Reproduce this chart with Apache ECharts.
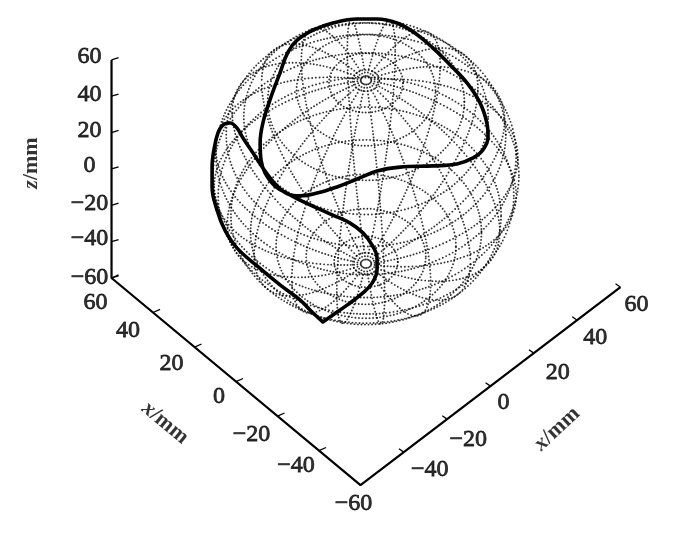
<!DOCTYPE html>
<html>
<head>
<meta charset="utf-8">
<title>sphere seam</title>
<script src="https://cdn.jsdelivr.net/npm/echarts@6/dist/echarts.min.js"></script>
<style>html,body{margin:0;padding:0;background:#fff}#main{width:700px;height:536px}</style>
</head>
<body>
<div id="main"></div>
<script>
// values in mm
var zTicks = [60, 40, 20, 0, -20, -40, -60];
var leftTicks = [60, 40, 20, 0, -20, -40, -60];
var rightTicks = [60, 40, 20, 0, -20, -40];
var sphereRadius = 50;
var latitudes = [-85, -78, -67, -54, -41, -28, -15, -2, 11, 24, 37, 50, 63, 76, 85];
var longitudes = [7, 25, 43, 61, 79, 97, 115, 133, 151, 169, 187, 205, 223, 241, 259, 277, 295, 313, 331, 349];

// seam curve, view plane mm from the sphere centre
var seamU = [-14.1, -17.3, -21.6, -28.1, -35.6, -42.2, -46.1, -48.7, -50.3, -50.3, -49.7, -48.4, -46.7, -44.4, -42.2, -40.2, -36.9, -33.7, -29.7, -25.5, -21.6, -16.0, -9.5, -2.9, 3.6, 11.1, 21.9, 29.7, 35.0, 38.2, 39.9, 39.5, 37.3, 33.0, 27.5, 21.9, 15.4, 10.1, 3.6, -2.9, -10.8, -17.3, -22.5, -25.5, -28.1, -31.4, -33.7, -34.6, -34.3, -33.0, -29.7, -24.8, -21.6, -16.0, -10.8, -5.2, -1.0, 2.0, 3.6, 3.6, 2.0, -1.0, -6.2, -10.8, -14.1];
var seamV = [-49.0, -46.1, -41.8, -36.9, -30.7, -24.8, -19.0, -12.4, -4.9, 1.6, 7.2, 12.7, 15.4, 16.0, 14.4, 11.1, 6.2, 1.3, -3.9, -7.2, -7.8, -6.9, -4.9, -2.3, 0.3, 1.6, 2.0, 2.6, 4.6, 7.2, 11.4, 16.0, 22.5, 29.1, 35.0, 40.5, 45.8, 48.7, 50.0, 50.0, 48.7, 46.4, 43.1, 39.2, 32.4, 23.5, 16.0, 9.5, 3.9, -0.3, -4.6, -7.5, -9.2, -11.8, -14.1, -16.7, -19.9, -23.9, -28.1, -32.0, -36.3, -39.5, -43.5, -46.7, -49.0];

// layout, px
var pxPerMm = 3.06;
var centerX = 366, centerY = 172;
var zLabelOffset = [[-22, -3], [-22, -2], [-22, -2], [-22, -3], [-22, -2], [-22, -3], [-22, 0]];
var leftLabelOffset = [[-16, 25], [-25, 18], [-23, 17], [-17, 15], [-26, 19], [-23, 15], [-7, 19]];
var rightLabelOffset = [[16, 18], [18, 18], [24, 20], [13, 17], [21, 21], [26, 18]];

// orthographic view: mm on screen per mm along each axis
var viewA = [-0.678, 0.564], viewB = [0.708, 0.539], viewZ = [0, 0.594];
var axisShift = -0.5;
function axisPoint(a, b, z) {
    return [a * viewA[0] + b * viewB[0] + z * viewZ[0],
            a * viewA[1] + b * viewB[1] + z * viewZ[1] + axisShift];
}

var cosEl = 0.6, sinEl = 0.8;
var dotGap = 1.05; // mm on the page between dots of one mesh line
var meshDots = [];
function spherePoint(lat, lon) {
    var p = lat * Math.PI / 180, l = lon * Math.PI / 180;
    return [sphereRadius * Math.cos(p) * Math.cos(l),
            sphereRadius * Math.cos(p) * Math.sin(l) * sinEl + sphereRadius * Math.sin(p) * cosEl];
}
function addMeshLine(pointAt, from, to) {
    var last = null;
    for (var t = from; t <= to; t += 0.25) {
        var p = pointAt(t);
        if (!last || Math.hypot(p[0] - last[0], p[1] - last[1]) >= dotGap) {
            meshDots.push(p);
            last = p;
        }
    }
}
latitudes.forEach(function (lat) {
    addMeshLine(function (lon) { return spherePoint(lat, lon); }, 0, 360);
});
// each meridian runs out from both poles so the two clusters look alike
longitudes.forEach(function (lon) {
    addMeshLine(function (t) { return spherePoint(88 - t, lon); }, 0, 88);
    addMeshLine(function (t) { return spherePoint(t - 88, lon); }, 0, 88);
});

var seam = seamU.map(function (u, i) { return [u, seamV[i]]; });

var tickSegs = [], tickLabels = [];
function tick(p, dx, dy) {
    tickSegs.push({coords: [p, [p[0] + dx, p[1] + dy]]});
}
function label(p, text, off) {
    tickLabels.push({value: p, label: {formatter: text, offset: off}});
}
function fmt(v) { return v < 0 ? '\u2212' + (-v) : String(v); }

zTicks.forEach(function (v, i) {
    var p = axisPoint(60, -60, v);
    tick(p, 2.3, 0.7);
    label(p, fmt(v), zLabelOffset[i]);
});
leftTicks.forEach(function (v, i) {
    var p = axisPoint(v, -60, -60);
    if (v > -60) tick(p, 2.3, 1.0);
    label(p, fmt(v), leftLabelOffset[i]);
});
rightTicks.forEach(function (v, i) {
    var p = axisPoint(-60, v, -60);
    tick(p, -1.6, 1.1);
    label(p, fmt(v), rightLabelOffset[i]);
});

var axisPath = [axisPoint(60, -60, 60), axisPoint(60, -60, -60), axisPoint(-60, -60, -60), axisPoint(-60, 60, -60)];

function titleLabel(x, y, text, rot) {
    return {
        value: [(x - centerX) / pxPerMm, (centerY - y) / pxPerMm],
        label: {formatter: '{i|' + text + '}{b|/mm}', rotate: rot}
    };
}
var titles = [
    titleLabel(31, 163, 'z', 90),
    titleLabel(165, 423, 'x', -40),
    titleLabel(557, 429, 'x', 43)
];

var chart = echarts.init(document.getElementById('main'), null, {renderer: 'canvas'});
var serif = '"Liberation Serif", serif';
chart.setOption({
    animation: false,
    backgroundColor: '#fff',
    grid: {left: 0, right: 0, top: 0, bottom: 0},
    xAxis: {type: 'value', show: false, min: -centerX / pxPerMm, max: (700 - centerX) / pxPerMm},
    yAxis: {type: 'value', show: false, min: (centerY - 536) / pxPerMm, max: centerY / pxPerMm},
    series: [
        {
            type: 'scatter', data: meshDots, symbolSize: 1.9, silent: true,
            itemStyle: {color: '#000'}
        },
        {
            type: 'line', data: seam, smooth: 0.4, showSymbol: false, silent: true,
            lineStyle: {color: '#000', width: 3.6, cap: 'round', join: 'round'}
        },
        {
            type: 'line', data: axisPath, showSymbol: false, silent: true,
            lineStyle: {color: '#000', width: 2.2}
        },
        {
            type: 'lines', coordinateSystem: 'cartesian2d', data: tickSegs, silent: true,
            lineStyle: {color: '#000', width: 1.3, opacity: 1}
        },
        {
            type: 'scatter', data: tickLabels, symbolSize: 0, silent: true,
            label: {
                show: true, position: 'inside', align: 'center', verticalAlign: 'middle',
                fontFamily: serif, fontSize: 24, color: '#000',
                textBorderColor: '#000', textBorderWidth: 0.8
            }
        },
        {
            type: 'scatter', data: titles, symbolSize: 0, silent: true,
            label: {
                show: true, position: 'inside', align: 'center', verticalAlign: 'middle', color: '#000',
                rich: {
                    i: {fontFamily: serif, fontSize: 22, fontStyle: 'italic', fontWeight: 'bold', color: '#000'},
                    b: {fontFamily: serif, fontSize: 22, fontWeight: 'bold', color: '#000'}
                }
            }
        }
    ]
});
</script>
</body>
</html>
